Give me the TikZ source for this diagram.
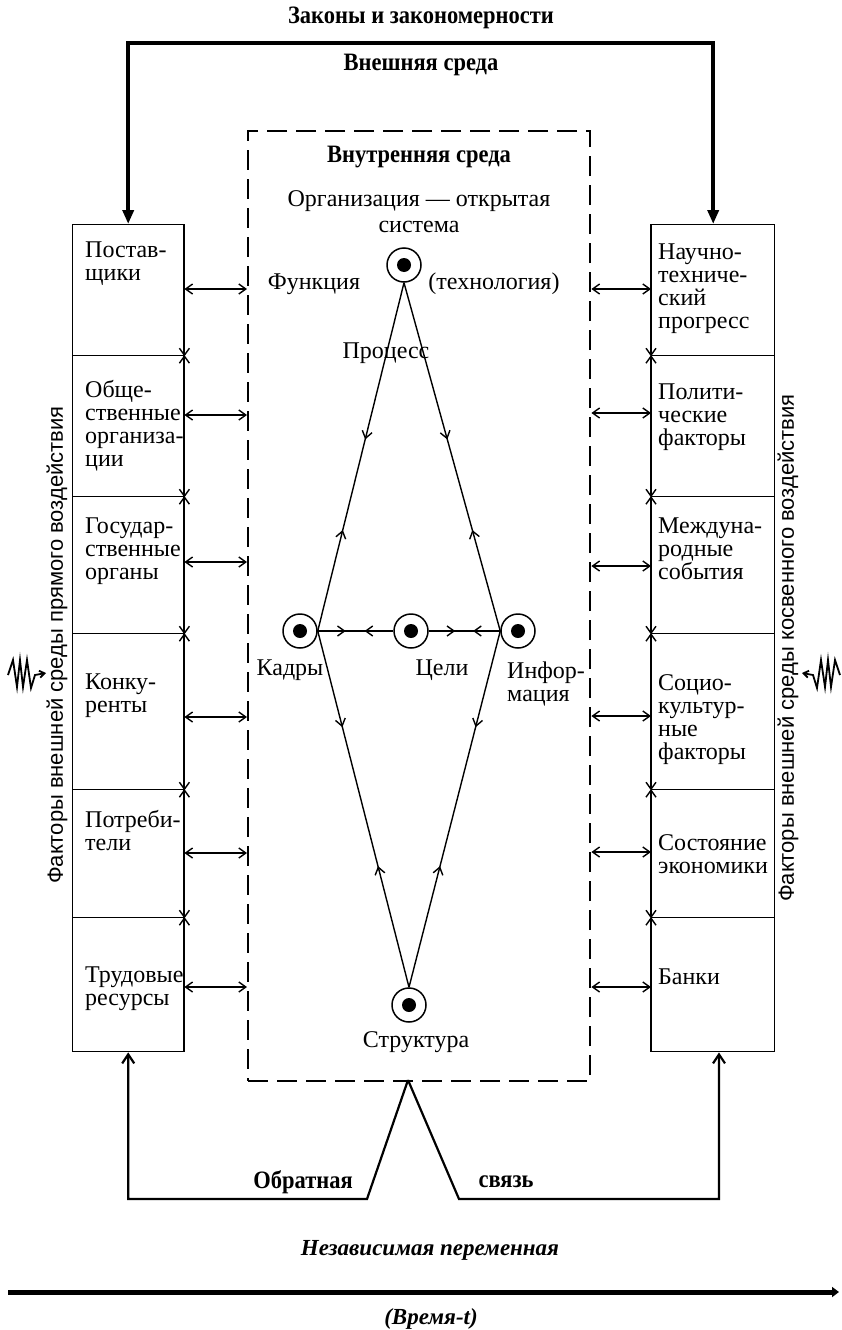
\documentclass[tikz,border=0pt]{standalone}
\usepackage{fontspec}
\setmainfont{Liberation Serif}
\setsansfont{Liberation Sans}
\newfontfamily\headfont{Liberation Serif}[FakeStretch=0.9]
\usetikzlibrary{arrows.meta,decorations.markings}

\tikzset{
  >={Straight Barb[length=7pt,width=10pt]},
  txt/.style={font=\fontsize{24}{23}\selectfont, inner sep=0pt, align=left},
  ctxt/.style={font=\fontsize{24}{26}\selectfont, inner sep=0pt, align=center},
  bhead/.style={font=\headfont\bfseries\fontsize{25}{26}\selectfont, inner sep=0pt},
  ihead/.style={font=\bfseries\itshape\fontsize{23}{26}\selectfont, inner sep=0pt},
  side/.style={font=\sffamily\fontsize{22}{24}\selectfont, inner sep=0pt, rotate=90},
  cell/.style={draw, line width=1.4pt, inner sep=0pt, anchor=north west},
  edge/.style={line width=1.4pt},
  link/.style={line width=1.4pt, <->},
  dashbox/.style={draw, line width=2.4pt, dash pattern=on 20pt off 9pt, inner sep=0pt, anchor=north west},
  dotc/.style={circle, draw, line width=1.5pt, minimum size=34pt, inner sep=0pt,
    path picture={\fill (path picture bounding box.center) circle (7pt);}},
  flow/.style 2 args={line width=1.4pt, postaction={decorate}, decoration={markings,
    mark=at position #1 with {\arrow{Straight Barb[length=7pt,width=10pt]}},
    mark=at position #2 with {\arrowreversed{Straight Barb[length=7pt,width=10pt]}}}},
  heavy/.style={line width=3.5pt, line join=miter, {Triangle[length=14pt,width=11pt]}-{Triangle[length=14pt,width=11pt]}},
  fback/.style={line width=2.2pt, line join=miter, -{Straight Barb[length=9pt,width=12pt]}},
  timeaxis/.style={line width=5pt, -{Triangle[length=7pt,width=10pt]}},
  squiggle/.style={line width=1.8pt, line join=miter},
}

\begin{document}
\begin{tikzpicture}[x=1pt,y=-1pt]
\useasboundingbox (0,0) rectangle (842,1330);
\fill[white] (0,0) rectangle (842,1330);

% ---- headings
\node[bhead] (laws) at (421,18) {Законы и закономерности};
\node[bhead] (outer) at (421,65) {Внешняя среда};

% ---- internal environment frame
\node[dashbox, minimum width=342pt, minimum height=950pt] (D) at (247,130) {};
\node[bhead] (inner) at (419,157) {Внутренняя среда};
\node[ctxt, anchor=north] (org) at (419,190) {Организация — открытая\\система};

% ---- factors of direct influence (left column)
\node[cell, minimum width=111pt, minimum height=131pt] (L1) at (72,224) {};
\node[cell, minimum width=111pt, minimum height=141pt] (L2) at (72,355) {};
\node[cell, minimum width=111pt, minimum height=137pt] (L3) at (72,496) {};
\node[cell, minimum width=111pt, minimum height=156pt] (L4) at (72,633) {};
\node[cell, minimum width=111pt, minimum height=128pt] (L5) at (72,789) {};
\node[cell, minimum width=111pt, minimum height=134pt] (L6) at (72,917) {};

\node[txt, anchor=north west] (tL1) at (85,242) {Постав-\\щики};
\node[txt, anchor=north west] (tL2) at (85,380) {Обще-\\ственные\\организа-\\ции};
\node[txt, anchor=north west] (tL3) at (85,518) {Государ-\\ственные\\органы};
\node[txt, anchor=north west] (tL4) at (85,674) {Конку-\\ренты};
\node[txt, anchor=north west] (tL5) at (85,810) {Потреби-\\тели};
\node[txt, anchor=north west] (tL6) at (85,967) {Трудовые\\ресурсы};

% ---- factors of indirect influence (right column)
\node[cell, minimum width=123pt, minimum height=131pt] (R1) at (651,224) {};
\node[cell, minimum width=123pt, minimum height=141pt] (R2) at (651,355) {};
\node[cell, minimum width=123pt, minimum height=137pt] (R3) at (651,496) {};
\node[cell, minimum width=123pt, minimum height=156pt] (R4) at (651,633) {};
\node[cell, minimum width=123pt, minimum height=128pt] (R5) at (651,789) {};
\node[cell, minimum width=123pt, minimum height=134pt] (R6) at (651,917) {};

\node[txt, anchor=north west] (tR1) at (658,244) {Научно-\\техниче-\\ский\\прогресс};
\node[txt, anchor=north west] (tR2) at (658,384) {Полити-\\ческие\\факторы};
\node[txt, anchor=north west] (tR3) at (658,518) {Междуна-\\родные\\события};
\node[txt, anchor=north west] (tR4) at (658,674) {Социо-\\культур-\\ные\\факторы};
\node[txt, anchor=north west] (tR5) at (658,834) {Состояние\\экономики};
\node[txt, anchor=north west] (tR6) at (658,969) {Банки};

% ---- side captions
\node[side] (sideL) at (57,645) {Факторы внешней среды прямого воздействия};
\node[side] (sideR) at (788,648) {Факторы внешней среды косвенного воздействия};

% ---- arrows along the inner edges of the columns
\draw[edge, ->] (L1.north east) -- (L1.south east);
\draw[edge, <->] (L2.north east) -- (L2.south east);
\draw[edge, <->] (L3.north east) -- (L3.south east);
\draw[edge, <->] (L4.north east) -- (L4.south east);
\draw[edge, <->] (L5.north east) -- (L5.south east);
\draw[edge, <-] (L6.north east) -- (L6.south east);
\draw[edge, ->] (R1.north west) -- (R1.south west);
\draw[edge, <->] (R2.north west) -- (R2.south west);
\draw[edge, <->] (R3.north west) -- (R3.south west);
\draw[edge, <->] (R4.north west) -- (R4.south west);
\draw[edge, <->] (R5.north west) -- (R5.south west);
\draw[edge, <-] (R6.north west) -- (R6.south west);

% ---- exchange between the columns and the organisation
\coordinate (a1) at (0,289); \coordinate (a2) at (0,415); \coordinate (a3) at (0,562);
\coordinate (a4) at (0,717); \coordinate (a5) at (0,853); \coordinate (a6) at (0,987);
\coordinate (b1) at (0,289); \coordinate (b2) at (0,413); \coordinate (b3) at (0,566);
\coordinate (b4) at (0,716); \coordinate (b5) at (0,852); \coordinate (b6) at (0,987);
\draw[link] (L1.east |- a1) -- (D.west |- a1);
\draw[link] (L2.east |- a2) -- (D.west |- a2);
\draw[link] (L3.east |- a3) -- (D.west |- a3);
\draw[link] (L4.east |- a4) -- (D.west |- a4);
\draw[link] (L5.east |- a5) -- (D.west |- a5);
\draw[link] (L6.east |- a6) -- (D.west |- a6);
\draw[link] (D.east |- b1) -- (R1.west |- b1);
\draw[link] (D.east |- b2) -- (R2.west |- b2);
\draw[link] (D.east |- b3) -- (R3.west |- b3);
\draw[link] (D.east |- b4) -- (R4.west |- b4);
\draw[link] (D.east |- b5) -- (R5.west |- b5);
\draw[link] (D.east |- b6) -- (R6.west |- b6);

% ---- laws and regularities acting on both columns
\coordinate (top) at (0,43);
\draw[heavy] (L1.north) -- (L1.north |- top) -- (R1.north |- top) -- (R1.north);

% ---- the organisation as an open system
\node[dotc] (F) at (404,265) {};
\node[dotc] (K) at (300,631) {};
\node[dotc] (C) at (411,631) {};
\node[dotc] (I) at (518,631) {};
\node[dotc] (S) at (409,1005) {};

\node[txt, anchor=center] (tF) at (314,284) {Функция};
\node[txt, anchor=center] (tT) at (494,284) {(технология)};
\node[txt, anchor=center] (tP) at (386,353) {Процесс};
\node[txt, anchor=center] (tK) at (290,670) {Кадры};
\node[txt, anchor=center] (tC) at (442,670) {Цели};
\node[txt, anchor=north west] (tI) at (507,662) {Инфор-\\мация};
\node[txt, anchor=center] (tS) at (416,1042) {Структура};

\draw[flow={0.45}{0.71}] (F.south) -- (K.east);
\draw[flow={0.45}{0.71}] (F.south) -- (I.west);
\draw[flow={0.27}{0.66}] (K.east) -- (S.north);
\draw[flow={0.27}{0.66}] (I.west) -- (S.north);
\draw[flow={0.37}{0.62}] (K.east) -- (C.west);
\draw[flow={0.37}{0.62}] (C.east) -- (I.west);

% ---- feedback
\coordinate (apex) at (408,1080);
\coordinate (fl) at (367,1199);
\coordinate (fr) at (459,1199);
\coordinate (fR) at (719,1199);
\draw[fback] (apex) -- (fl) -- (fl -| L6.south) -- (L6.south);
\draw[fback] (apex) -- (fr) -- (fR) -- (fR |- R6.south);
\node[bhead] (fb1) at (303,1182) {Обратная};
\node[bhead] (fb2) at (506,1182) {связь};

% ---- disturbances
\draw[squiggle, -{Straight Barb[length=5pt,width=7pt]}]
  (8,675) -- (13,660) -- (17,687) -- (20,660) -- (23,687) -- (27,660) -- (31,688) -- (35,675) -- (46,673);
\draw[squiggle, -{Straight Barb[length=5pt,width=7pt]}]
  (840,675) -- (835,660) -- (831,687) -- (828,660) -- (825,687) -- (821,660) -- (817,688) -- (813,675) -- (802,673);

% ---- time axis
\coordinate (t0) at (8,1292);
\coordinate (t1) at (839,1292);
\draw[timeaxis] (t0) -- (t1);
\node[ihead] (indep) at (430,1250) {Независимая переменная};
\node[ihead] (time) at (431,1319) {(Время-t)};
\end{tikzpicture}
\end{document}
